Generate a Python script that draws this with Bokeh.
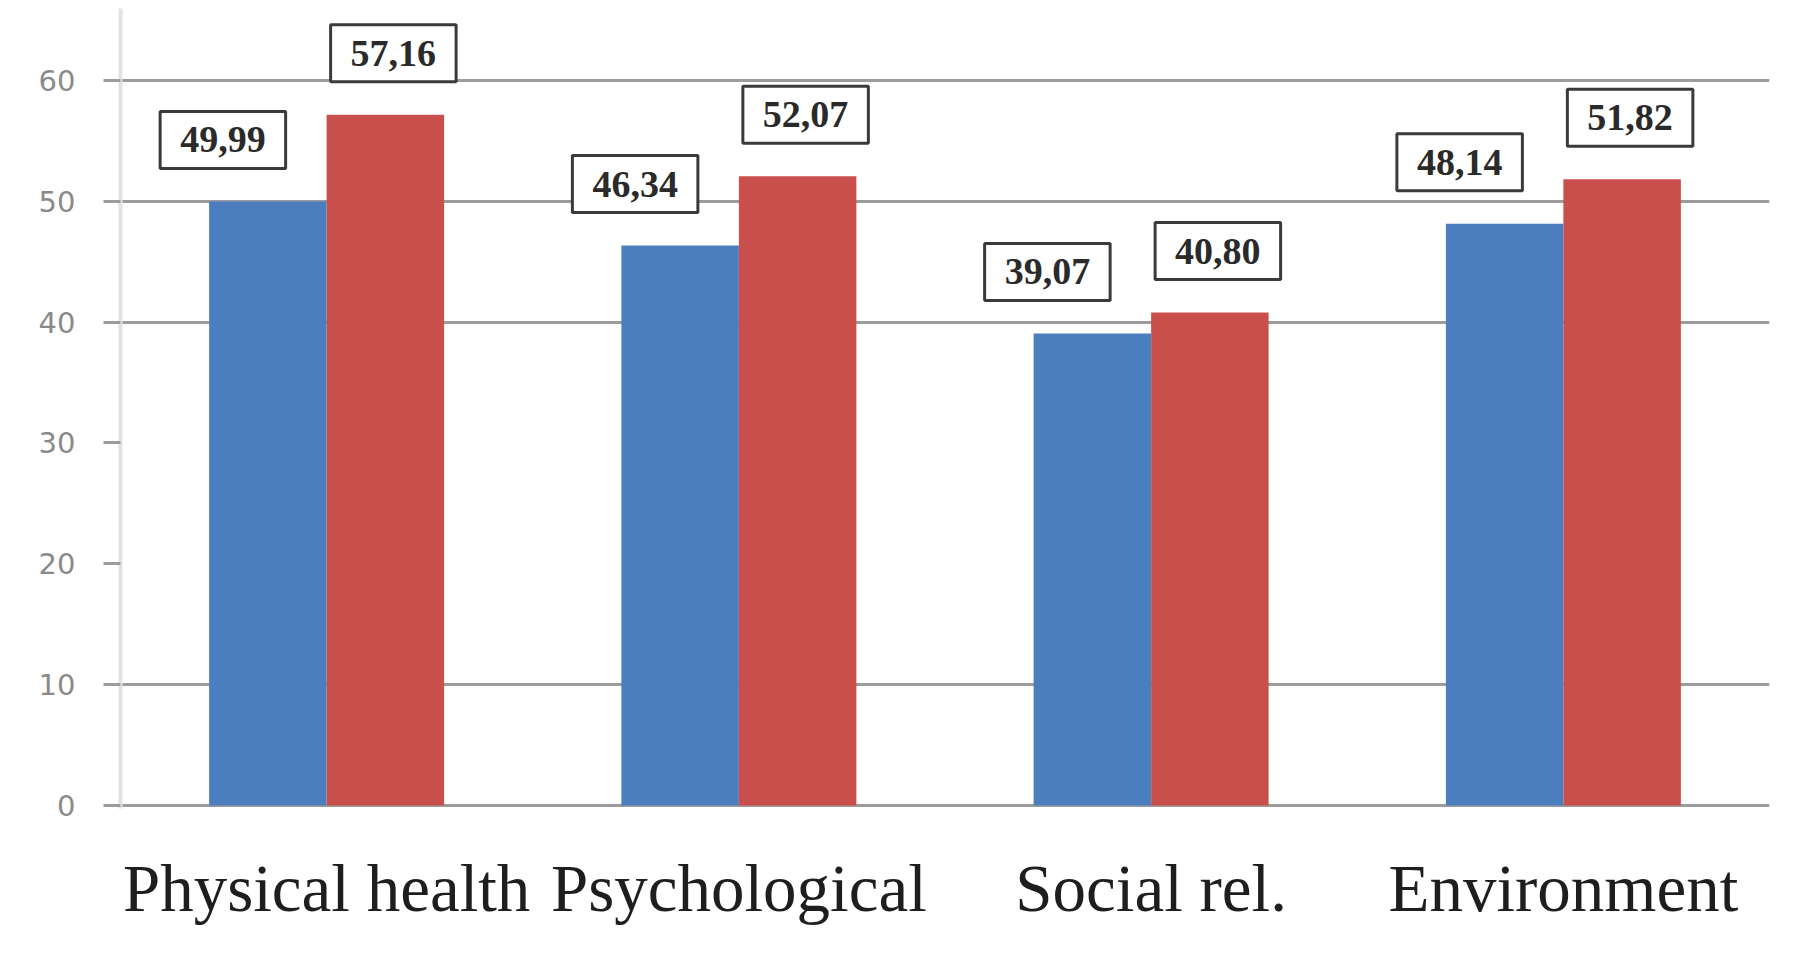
from bokeh.plotting import figure
from bokeh.models import ColumnDataSource, FixedTicker, Range1d, FactorRange
from bokeh.transform import dodge
from bokeh.core.properties import value
from bokeh.embed import file_html
from bokeh.resources import INLINE

categories = ["Physical health", "Psychological", "Social rel.", "Environment"]
series_blue = [49.99, 46.34, 39.07, 48.14]
series_red = [57.16, 52.07, 40.80, 51.82]
y_ticks = [0, 10, 20, 30, 40, 50, 60]
grid_ticks = [0, 10, 40, 50, 60]

Y_TOP = 65.96
Y_BOTTOM = -0.25


def fmt(v):
    return f"{v:.2f}".replace(".", ",")


src = ColumnDataSource(dict(
    cat=categories,
    blue=series_blue,
    red=series_red,
    blue_lbl=[fmt(v) for v in series_blue],
    red_lbl=[fmt(v) for v in series_red],
))

p = figure(
    x_range=FactorRange(*categories, range_padding=0),
    y_range=Range1d(Y_BOTTOM, Y_TOP),
    width=1795, height=952,
    output_backend="svg", toolbar_location=None,
    min_border_left=120, min_border_right=26, min_border_top=8,
    min_border_bottom=144,
    background_fill_color="white", border_fill_color="white",
)
p.outline_line_color = None

BLUE = "#4A7EBF"
RED = "#C84F4C"
bw = 0.285
p.vbar(x=dodge("cat", -bw / 2, range=p.x_range), top="blue", width=bw, bottom=0,
       source=src, fill_color=BLUE, line_color=None)
p.vbar(x=dodge("cat", bw / 2, range=p.x_range), top="red", width=bw, bottom=0,
       source=src, fill_color=RED, line_color=None)

# grid
p.xgrid.visible = False
p.ygrid.ticker = FixedTicker(ticks=grid_ticks)
p.ygrid.grid_line_color = "#9c9c9c"
p.ygrid.grid_line_width = 3

# y axis
p.yaxis.ticker = FixedTicker(ticks=y_ticks)
p.yaxis.axis_line_color = "#e2e2e2"
p.yaxis.axis_line_width = 4
p.yaxis.major_tick_out = 17
p.yaxis.major_tick_in = 0
p.yaxis.minor_tick_line_color = None
p.yaxis.major_tick_line_color = "#9c9c9c"
p.yaxis.major_tick_line_width = 3
p.yaxis.major_label_text_font = "DejaVu Sans"
p.yaxis.major_label_text_font_size = "29px"
p.yaxis.major_label_text_color = "#8a8a8a"
p.yaxis.major_label_standoff = 28

# x axis
p.xaxis.axis_line_color = None
p.xaxis.major_tick_line_color = None
p.xaxis.minor_tick_line_color = None
p.xaxis.major_label_text_font = "Liberation Serif"
p.xaxis.major_label_text_font_size = "67px"
p.xaxis.major_label_text_color = "#1e1e1e"
p.xaxis.major_label_standoff = 36

common = dict(
    source=src, y_offset=-33, text_align="center", text_baseline="bottom",
    text_font=value("Liberation Serif"), text_font_style="bold", text_font_size="38px",
    text_color="#2a2a2a", background_fill_color="white",
    border_line_color="#3a3a3a", border_line_width=3, padding=(20, 16),
)
p.text(x=dodge("cat", -bw / 2, range=p.x_range), y="blue", text="blue_lbl",
       x_offset=-45, **common)
p.text(x=dodge("cat", bw / 2, range=p.x_range), y="red", text="red_lbl",
       x_offset=8, **common)

open("out.html", "w").write(file_html(p, INLINE))
